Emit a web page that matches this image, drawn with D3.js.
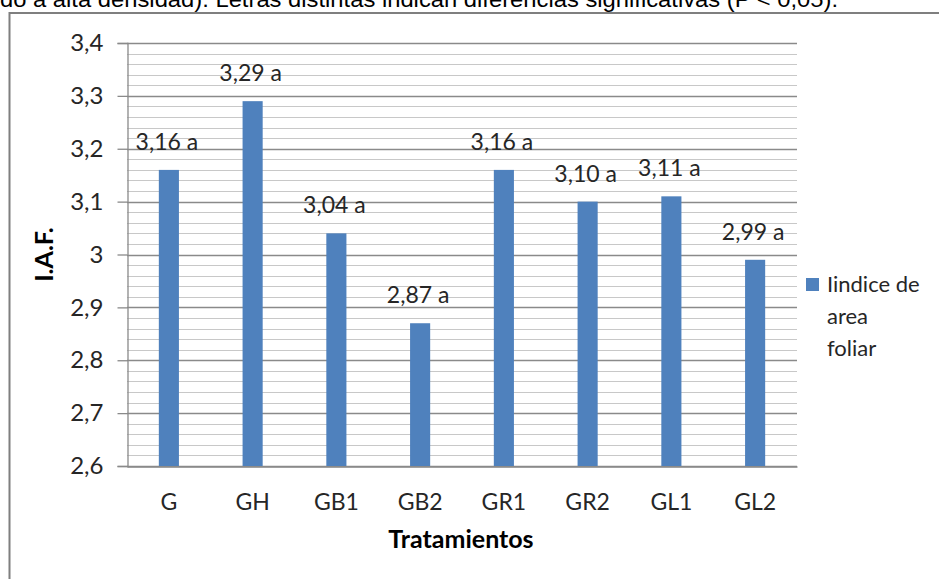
<!DOCTYPE html>
<html>
<head>
<meta charset="utf-8">
<script src="https://cdn.jsdelivr.net/npm/d3@7"></script>
<style>
  html, body { margin: 0; padding: 0; background: #fff; }
  svg { display: block; }
</style>
</head>
<body>
<svg id="chart" width="939" height="579"></svg>
<script>
// Leaf area index per treatment, with the significance letter of each mean
const treatments = ["G", "GH", "GB1", "GB2", "GR1", "GR2", "GL1", "GL2"];
const iafValues = [3.16, 3.29, 3.04, 2.87, 3.16, 3.10, 3.11, 2.99];
const groupLetters = ["a", "a", "a", "a", "a", "a", "a", "a"];
const yDomain = [2.6, 3.4];
const seriesName = ["Iindice de", "area", "foliar"];
const captionTail = "do a alta densidad). Letras distintas indican diferencias significativas  (P < 0,05).";

const svg = d3.select("#chart");
const font = "Lato, 'Open Sans', sans-serif";
const barColor = "#4f81bd";
const textColor = "#262626";

const plot = { left: 127, right: 797, top: 43, bottom: 466 };

const x = d3.scaleBand()
  .domain(treatments)
  .range([plot.left, plot.right])
  .paddingInner(0.76)
  .paddingOuter(0.38);

const y = d3.scaleLinear().domain(yDomain).range([plot.bottom, plot.top]);

// caption line running off the top edge
svg.append("text")
  .attr("x", 0).attr("y", 7)
  .attr("font-family", "'Liberation Sans', Arial, sans-serif")
  .attr("font-size", 22)
  .attr("textLength", 838)
  .attr("lengthAdjust", "spacingAndGlyphs")
  .attr("fill", "#000")
  .text(captionTail);

// chart frame (extends past the right and bottom edges)
svg.append("rect")
  .attr("x", 9.5).attr("y", 13)
  .attr("width", 1000).attr("height", 700)
  .attr("fill", "none")
  .attr("stroke", "#7f7f7f")
  .attr("stroke-width", 2);

// minor gridlines every 0.02
const minor = y.ticks(40);
svg.append("g").selectAll("line")
  .data(minor)
  .join("line")
  .attr("x1", plot.left).attr("x2", plot.right)
  .attr("y1", d => Math.round(y(d)) + 0.5)
  .attr("y2", d => Math.round(y(d)) + 0.5)
  .attr("stroke", "#c8c8c8")
  .attr("stroke-width", 1.2);

// major gridlines every 0.1
const major = y.ticks(8);
svg.append("g").selectAll("line")
  .data(major)
  .join("line")
  .attr("x1", plot.left).attr("x2", plot.right)
  .attr("y1", d => Math.round(y(d)) + 0.5)
  .attr("y2", d => Math.round(y(d)) + 0.5)
  .attr("stroke", "#8a8a8a")
  .attr("stroke-width", 1.3);

// y axis
const yAxis = d3.axisLeft(y)
  .tickValues(major)
  .tickSize(10)
  .tickPadding(14)
  .tickFormat(d => String(+d.toFixed(1)).replace(".", ","));

const gy = svg.append("g")
  .attr("transform", `translate(${plot.left + 0.5},0)`)
  .call(yAxis);
gy.select(".domain").attr("stroke", "#8a8a8a").attr("stroke-width", 1.3);
gy.selectAll(".tick line").attr("stroke", "#8a8a8a").attr("stroke-width", 1.3);
gy.selectAll(".tick text")
  .attr("font-family", font)
  .attr("font-size", 24)
  .attr("fill", textColor);

// bars
svg.append("g").selectAll("rect")
  .data(treatments)
  .join("rect")
  .attr("x", d => x(d))
  .attr("width", x.bandwidth())
  .attr("y", (d, i) => y(iafValues[i]))
  .attr("height", (d, i) => y(yDomain[0]) - y(iafValues[i]))
  .attr("fill", barColor);

// x axis
const xAxis = d3.axisBottom(x).tickSize(0).tickPadding(27);
const gx = svg.append("g")
  .attr("transform", `translate(0,${Math.round(y(yDomain[0])) + 0.5})`)
  .call(xAxis);
gx.select(".domain").attr("stroke", "#8a8a8a").attr("stroke-width", 1.3);
gx.selectAll(".tick text")
  .attr("font-family", font)
  .attr("font-size", 23)
  .attr("fill", textColor);

// value labels above the bars
svg.append("g").selectAll("text")
  .data(treatments)
  .join("text")
  .attr("x", d => x(d) + x.bandwidth() / 2 - 2)
  .attr("y", (d, i) => y(iafValues[i]) - 20)
  .attr("text-anchor", "middle")
  .attr("font-family", font)
  .attr("font-size", 23)
  .attr("fill", textColor)
  .text((d, i) => iafValues[i].toFixed(2).replace(".", ",") + " " + groupLetters[i]);

// axis titles
svg.append("text")
  .attr("x", (plot.left + plot.right) / 2 - 1)
  .attr("y", 548)
  .attr("text-anchor", "middle")
  .attr("font-family", font)
  .attr("font-weight", "bold")
  .attr("font-size", 25)
  .attr("fill", "#000")
  .text("Tratamientos");

svg.append("text")
  .attr("transform", `translate(53,${(plot.top + plot.bottom) / 2}) rotate(-90)`)
  .attr("text-anchor", "middle")
  .attr("font-family", font)
  .attr("font-weight", "bold")
  .attr("font-size", 25)
  .attr("fill", "#000")
  .text("I.A.F.");

// legend
const lg = svg.append("g").attr("transform", "translate(806,278)");
lg.append("rect").attr("width", 13).attr("height", 13).attr("fill", barColor);
lg.selectAll("text.leg")
  .data(seriesName)
  .join("text")
  .attr("class", "leg")
  .attr("x", 21)
  .attr("y", (d, i) => 14 + i * 32)
  .attr("font-family", font)
  .attr("font-size", 22)
  .attr("fill", textColor)
  .text(d => d);
</script>
</body>
</html>
